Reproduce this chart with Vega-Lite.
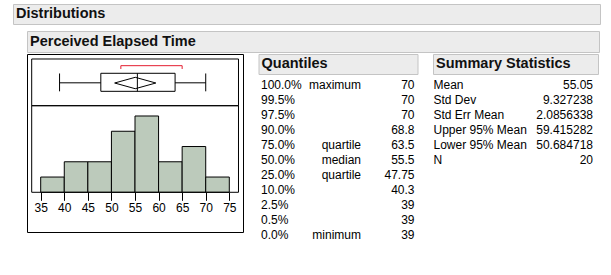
{
  "$schema": "https://vega.github.io/schema/vega-lite/v6.json",
  "background": "white",
  "padding": {"left": 12, "top": 3, "right": 0, "bottom": 0},
  "config": {
    "view": {"stroke": null},
    "font": "Liberation Sans",
    "text": {"font": "Liberation Sans", "fontSize": 12, "color": "black", "baseline": "middle"},
    "concat": {"spacing": 0}
  },
  "spacing": 5,
  "vconcat": [
    {
      "width": 587, "height": 20,
      "view": {"fill": "#ececec", "stroke": "#c4c4c4"},
      "data": {"values": [{"label": "Distributions"}]},
      "mark": {"type": "text", "align": "left", "fontSize": 14.5, "fontWeight": "bold", "color": "#111111"},
      "encoding": {"text": {"field": "label", "type": "nominal"}, "x": {"value": 3}}
    },
    {
      "spacing": 12,
      "hconcat": [
        {
          "width": 1, "height": 1,
          "data": {"values": []},
          "mark": "point",
          "encoding": {}
        },
        {
          "spacing": 0,
          "vconcat": [
            {
              "width": 572, "height": 21,
              "view": {"fill": "#ececec", "stroke": "#c4c4c4"},
              "data": {"values": [{"label": "Perceived Elapsed Time"}]},
              "mark": {"type": "text", "align": "left", "fontSize": 14.5, "fontWeight": "bold", "color": "#111111"},
              "encoding": {"text": {"field": "label", "type": "nominal"}, "x": {"value": 3}}
            },
            {
              "spacing": 13.5,
              "hconcat": [
                {
                  "width": 216, "height": 178,
                  "view": {"stroke": "black", "strokeWidth": 1},
                  "resolve": {"scale": {"y": "independent"}},
                  "layer": [
                    {
                      "data": {"values": [
                        {"bin_start": 35, "bin_end": 40, "count": 1},
                        {"bin_start": 40, "bin_end": 45, "count": 2},
                        {"bin_start": 45, "bin_end": 50, "count": 2},
                        {"bin_start": 50, "bin_end": 55, "count": 4},
                        {"bin_start": 55, "bin_end": 60, "count": 5},
                        {"bin_start": 60, "bin_end": 65, "count": 2},
                        {"bin_start": 65, "bin_end": 70, "count": 3},
                        {"bin_start": 70, "bin_end": 75, "count": 1}
                      ]},
                      "layer": [
                        {
                          "mark": {"type": "bar", "fill": "#bccabb", "stroke": "black", "strokeWidth": 1},
                          "encoding": {
                            "x": {
                              "field": "bin_start", "type": "quantitative",
                              "scale": {"domain": [32.094, 77.905], "nice": false, "zero": false},
                              "axis": {
                                "orient": "bottom", "offset": -39.7, "values": [35, 40, 45, 50, 55, 60, 65, 70, 75],
                                "tickCount": 20,
                                "domain": false, "grid": false, "tickSize": 8, "tickColor": "black", "tickWidth": 1,
                                "labelColor": "black", "labelFont": "Liberation Sans", "labelFontSize": 12,
                                "labelPadding": 2, "title": null, "labelFlush": false, "labelOverlap": false
                              }
                            },
                            "x2": {"field": "bin_end"},
                            "y": {"field": "count", "type": "quantitative", "scale": {"domain": [-2.602, 9.063], "nice": false, "zero": false}, "axis": null},
                            "y2": {"datum": 0}
                          }
                        },
                        {
                          "data": {"values": [{}]},
                          "mark": {"type": "rect", "filled": false, "color": "black", "strokeWidth": 1},
                          "encoding": {
                            "x": {"datum": 33.09, "type": "quantitative"},
                            "x2": {"datum": 76.95},
                            "y": {"datum": 0, "type": "quantitative"},
                            "y2": {"datum": 5.675}
                          }
                        }
                      ]
                    },
                    {
                      "data": {"values": [
                        {"min": 39, "q1": 47.75, "median": 55.5, "q3": 63.5, "max": 70, "mean": 55.05, "lower95": 50.684718, "upper95": 59.415282, "short_lo": 52, "short_hi": 65}
                      ]},
                      "layer": [
                        {
                          "mark": {"type": "rect", "filled": false, "color": "black", "strokeWidth": 1},
                          "encoding": {
                            "x": {"datum": 33.09, "type": "quantitative"},
                            "x2": {"datum": 76.95},
                            "y": {"datum": 0, "type": "quantitative", "scale": {"domain": [-2.704, 1.107], "nice": false, "zero": false}, "axis": null},
                            "y2": {"datum": 1}
                          }
                        },
                        {
                          "mark": {"type": "rule", "color": "black", "strokeWidth": 1},
                          "encoding": {"x": {"field": "min", "type": "quantitative"}, "x2": {"field": "q1"}, "y": {"datum": 0.49, "type": "quantitative"}}
                        },
                        {
                          "mark": {"type": "rule", "color": "black", "strokeWidth": 1},
                          "encoding": {"x": {"field": "q3", "type": "quantitative"}, "x2": {"field": "max"}, "y": {"datum": 0.49, "type": "quantitative"}}
                        },
                        {
                          "mark": {"type": "rule", "color": "black", "strokeWidth": 1},
                          "encoding": {"x": {"field": "min", "type": "quantitative"}, "y": {"datum": 0.308, "type": "quantitative"}, "y2": {"datum": 0.69}}
                        },
                        {
                          "mark": {"type": "rule", "color": "black", "strokeWidth": 1},
                          "encoding": {"x": {"field": "max", "type": "quantitative"}, "y": {"datum": 0.308, "type": "quantitative"}, "y2": {"datum": 0.69}}
                        },
                        {
                          "mark": {"type": "rect", "filled": false, "color": "black", "strokeWidth": 1},
                          "encoding": {"x": {"field": "q1", "type": "quantitative"}, "x2": {"field": "q3"}, "y": {"datum": 0.308, "type": "quantitative"}, "y2": {"datum": 0.694}}
                        },
                        {
                          "mark": {"type": "rule", "color": "black", "strokeWidth": 1},
                          "encoding": {"x": {"field": "median", "type": "quantitative"}, "y": {"datum": 0.308, "type": "quantitative"}, "y2": {"datum": 0.694}}
                        },
                        {
                          "mark": {"type": "rule", "color": "black", "strokeWidth": 1},
                          "encoding": {"x": {"field": "lower95", "type": "quantitative"}, "x2": {"field": "mean"}, "y": {"datum": 0.486, "type": "quantitative"}, "y2": {"datum": 0.608}}
                        },
                        {
                          "mark": {"type": "rule", "color": "black", "strokeWidth": 1},
                          "encoding": {"x": {"field": "mean", "type": "quantitative"}, "x2": {"field": "upper95"}, "y": {"datum": 0.608, "type": "quantitative"}, "y2": {"datum": 0.486}}
                        },
                        {
                          "mark": {"type": "rule", "color": "black", "strokeWidth": 1},
                          "encoding": {"x": {"field": "upper95", "type": "quantitative"}, "x2": {"field": "mean"}, "y": {"datum": 0.486, "type": "quantitative"}, "y2": {"datum": 0.364}}
                        },
                        {
                          "mark": {"type": "rule", "color": "black", "strokeWidth": 1},
                          "encoding": {"x": {"field": "mean", "type": "quantitative"}, "x2": {"field": "lower95"}, "y": {"datum": 0.364, "type": "quantitative"}, "y2": {"datum": 0.486}}
                        },
                        {
                          "mark": {"type": "rule", "color": "#e41e30", "strokeWidth": 1},
                          "encoding": {"x": {"field": "short_lo", "type": "quantitative"}, "x2": {"field": "short_hi"}, "y": {"datum": 0.857, "type": "quantitative"}}
                        },
                        {
                          "mark": {"type": "rule", "color": "#e41e30", "strokeWidth": 1},
                          "encoding": {"x": {"field": "short_lo", "type": "quantitative"}, "y": {"datum": 0.786, "type": "quantitative"}, "y2": {"datum": 0.857}}
                        },
                        {
                          "mark": {"type": "rule", "color": "#e41e30", "strokeWidth": 1},
                          "encoding": {"x": {"field": "short_hi", "type": "quantitative"}, "y": {"datum": 0.786, "type": "quantitative"}, "y2": {"datum": 0.857}}
                        }
                      ]
                    }
                  ]
                },
                {
                  "spacing": 2,
                  "vconcat": [
                    {
                      "width": 159, "height": 20,
                      "view": {"fill": "#ececec", "stroke": "#c4c4c4"},
                      "data": {"values": [{"label": "Quantiles"}]},
                      "mark": {"type": "text", "align": "left", "fontSize": 14.5, "fontWeight": "bold", "color": "#111111"},
                      "encoding": {"text": {"field": "label", "type": "nominal"}, "x": {"value": 3}}
                    },
                    {
                      "width": 159, "height": 165,
                      "data": {"values": [
                        {"pct": "100.0%", "name": "maximum", "value": "70"},
                        {"pct": "99.5%", "name": "", "value": "70"},
                        {"pct": "97.5%", "name": "", "value": "70"},
                        {"pct": "90.0%", "name": "", "value": "68.8"},
                        {"pct": "75.0%", "name": "quartile", "value": "63.5"},
                        {"pct": "50.0%", "name": "median", "value": "55.5"},
                        {"pct": "25.0%", "name": "quartile", "value": "47.75"},
                        {"pct": "10.0%", "name": "", "value": "40.3"},
                        {"pct": "2.5%", "name": "", "value": "39"},
                        {"pct": "0.5%", "name": "", "value": "39"},
                        {"pct": "0.0%", "name": "minimum", "value": "39"}
                      ]},
                      "encoding": {
                        "y": {"field": "pct", "type": "nominal", "sort": null, "axis": null, "scale": {"type": "point", "padding": 0.5}}
                      },
                      "layer": [
                        {"mark": {"type": "text", "align": "left"}, "encoding": {"text": {"field": "pct", "type": "nominal"}, "x": {"value": 2.5}}},
                        {"mark": {"type": "text", "align": "right"}, "encoding": {"text": {"field": "name", "type": "nominal"}, "x": {"value": 102.5}}},
                        {"mark": {"type": "text", "align": "right"}, "encoding": {"text": {"field": "value", "type": "nominal"}, "x": {"value": 156}}}
                      ]
                    }
                  ]
                },
                {
                  "spacing": 2,
                  "vconcat": [
                    {
                      "width": 165, "height": 20,
                      "view": {"fill": "#ececec", "stroke": "#c4c4c4"},
                      "data": {"values": [{"label": "Summary Statistics"}]},
                      "mark": {"type": "text", "align": "left", "fontSize": 14.5, "fontWeight": "bold", "color": "#111111"},
                      "encoding": {"text": {"field": "label", "type": "nominal"}, "x": {"value": 3}}
                    },
                    {
                      "width": 165, "height": 90,
                      "data": {"values": [
                        {"stat": "Mean", "value": "55.05"},
                        {"stat": "Std Dev", "value": "9.327238"},
                        {"stat": "Std Err Mean", "value": "2.0856338"},
                        {"stat": "Upper 95% Mean", "value": "59.415282"},
                        {"stat": "Lower 95% Mean", "value": "50.684718"},
                        {"stat": "N", "value": "20"}
                      ]},
                      "encoding": {
                        "y": {"field": "stat", "type": "nominal", "sort": null, "axis": null, "scale": {"type": "point", "padding": 0.5}}
                      },
                      "layer": [
                        {"mark": {"type": "text", "align": "left"}, "encoding": {"text": {"field": "stat", "type": "nominal"}, "x": {"value": 0.5}}},
                        {"mark": {"type": "text", "align": "right"}, "encoding": {"text": {"field": "value", "type": "nominal"}, "x": {"value": 160}}}
                      ]
                    }
                  ]
                }
              ]
            }
          ]
        }
      ]
    }
  ]
}
